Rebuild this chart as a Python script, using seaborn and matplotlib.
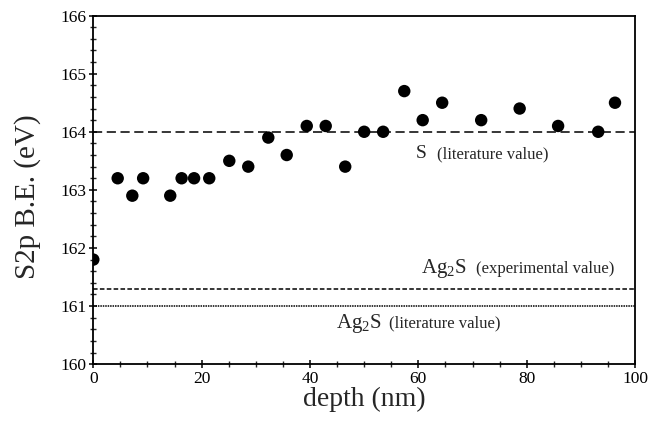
#!/usr/bin/env python3
"""S2p binding energy vs depth"""

import pandas as pd
import matplotlib.pyplot as plt
import seaborn as sns

depth = [0.0, 4.5, 7.2, 9.2, 14.2, 16.3, 18.6, 21.4, 25.1, 28.6, 32.3, 35.7,
         39.4, 42.9, 46.5, 50.0, 53.5, 57.4, 60.8, 64.4, 71.6, 78.7, 85.8,
         93.2, 96.3]
be = [161.8, 163.2, 162.9, 163.2, 162.9, 163.2, 163.2, 163.2, 163.5, 163.4,
      163.9, 163.6, 164.1, 164.1, 163.4, 164.0, 164.0, 164.7, 164.2, 164.5,
      164.2, 164.4, 164.1, 164.0, 164.5]

s_lit = 164.0
ag2s_exp = 161.3
ag2s_lit = 161.0

df = pd.DataFrame({"depth": depth, "be": be})

sns.set_style("ticks")
plt.rcParams['font.family'] = ['Liberation Serif', 'DejaVu Serif']
plt.rcParams['mathtext.fontset'] = 'custom'
plt.rcParams['mathtext.rm'] = 'Liberation Serif'
plt.rcParams['mathtext.it'] = 'Liberation Serif:italic'

fig = plt.figure(figsize=(6.48, 4.21), dpi=100)
ax = fig.add_axes([0.144, 0.135, 0.836, 0.828])

ax.axhline(s_lit, color='black', lw=1.1, ls=(0, (6, 3)), zorder=1)
ax.axhline(ag2s_exp, color='black', lw=1.1, ls=(0, (3, 1.5)), zorder=1)
ax.axhline(ag2s_lit, color='black', lw=1.1, ls=(0, (1, 0.6)), zorder=1)

sns.scatterplot(data=df, x="depth", y="be", color='black', s=80,
                edgecolor='none', ax=ax, zorder=3)

ax.set_xlim(0, 100)
ax.set_ylim(160, 166)
ax.set_xticks([0, 20, 40, 60, 80, 100])
ax.set_yticks([160, 161, 162, 163, 164, 165, 166])
ax.set_xticks(range(0, 101, 5), minor=True)
ax.set_yticks([160 + 0.2 * i for i in range(31)], minor=True)
ax.tick_params(which='major', direction='inout', length=6, width=1.1,
               labelsize=12.5, colors='black', pad=2)
ax.tick_params(which='minor', direction='inout', length=4, width=1)

for sp in ax.spines.values():
    sp.set_visible(True)
    sp.set_linewidth(1.3)
    sp.set_color('black')

ax.set_xlabel("depth (nm)", fontsize=20, labelpad=0)
ax.set_ylabel("S2p B.E. (eV)", fontsize=21)
ax.yaxis.set_label_coords(-0.097, 0.48)

# labels for the reference lines
ax.text(59.6, 163.55, "S", fontsize=14, va='baseline')
ax.text(63.4, 163.55, "(literature value)", fontsize=12, va='baseline')
ax.text(60.4, 161.57, r"Ag$_2$S", fontsize=15, va='baseline')
ax.text(70.6, 161.57, "(experimental value)", fontsize=12, va='baseline')
ax.text(44.8, 160.63, r"Ag$_2$S", fontsize=15, va='baseline')
ax.text(54.5, 160.63, "(literature value)", fontsize=12, va='baseline')

plt.savefig("out.png", dpi=100)
